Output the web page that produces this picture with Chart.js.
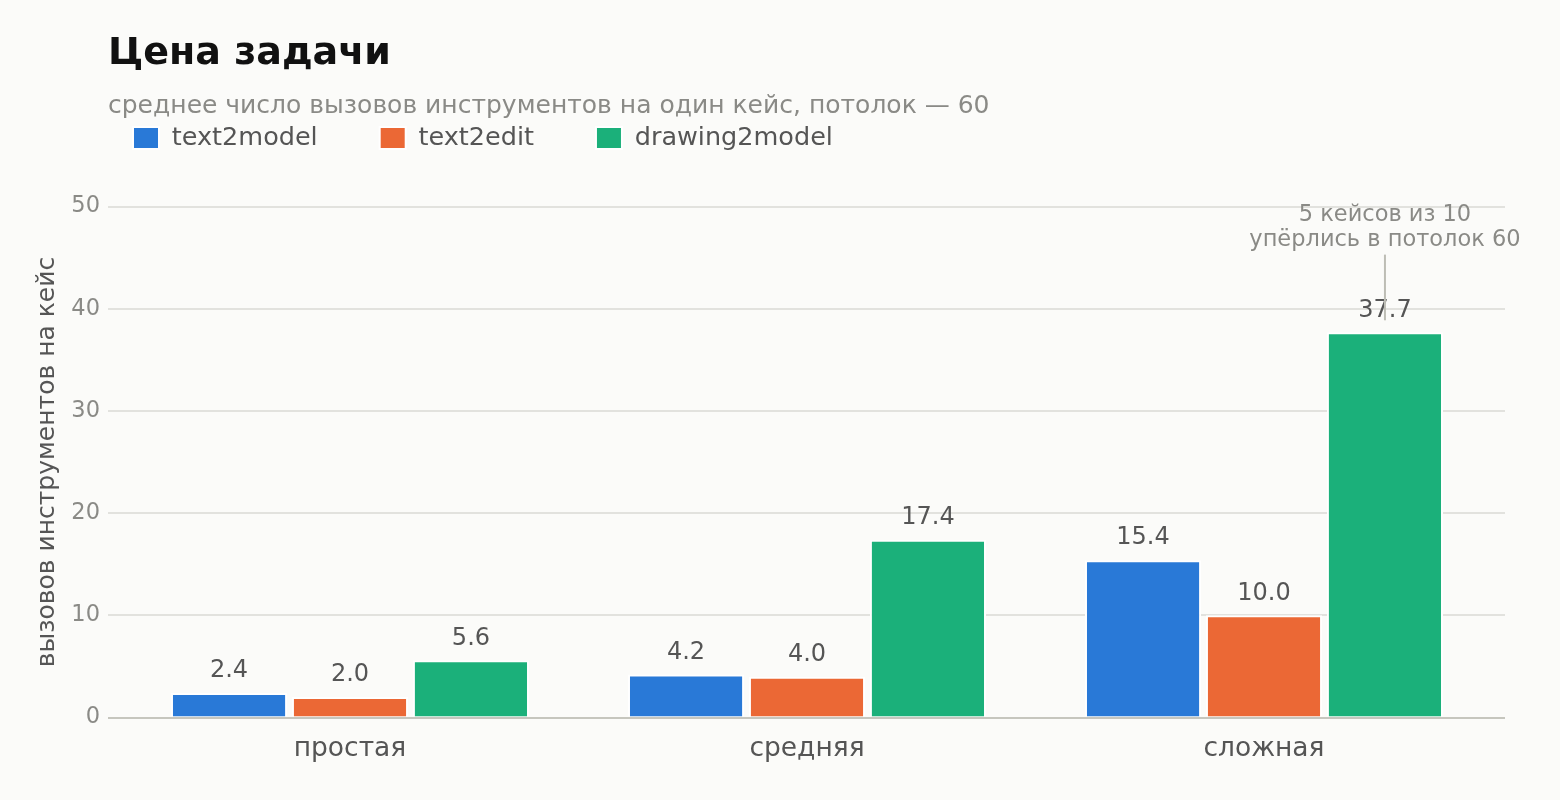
<!DOCTYPE html>
<html><head><meta charset="utf-8">
<script src="https://cdn.jsdelivr.net/npm/chart.js@4.4.0/dist/chart.umd.min.js"></script>
<style>html,body{margin:0;padding:0;background:#fbfbf9}#wrap{width:1560px;height:800px;position:relative}</style>
</head><body><div id="wrap"><canvas id="c"></canvas></div>
<script>
const categories = ['простая', 'средняя', 'сложная'];
const seriesNames = ['text2model', 'text2edit', 'drawing2model'];
const text2model = [2.4, 4.2, 15.4];
const text2edit = [2.0, 4.0, 10.0];
const drawing2model = [5.6, 17.4, 37.7];
const yTicks = [0, 10, 20, 30, 40, 50];
const titleText = 'Цена задачи';
const subtitleText = 'среднее число вызовов инструментов на один кейс, потолок — 60';
const yAxisTitle = 'вызовов инструментов на кейс';
const annotationLines = ['5 кейсов из 10', 'упёрлись в потолок 60'];
const annotationTarget = {dataset: 2, index: 2};
const colors = ['#2979d7', '#eb6835', '#1bb07a'];

const FONT = '"DejaVu Sans", "Noto Sans", sans-serif';
Chart.defaults.font.family = FONT;

const layoutFix = {
  id: 'layoutFix',
  afterLayout(chart) {
    const a = chart.chartArea;
    const xs = chart.scales.x;
    xs.left = a.left + 13.5;
    xs.right = a.right - 12.5;
    xs.width = xs.right - xs.left;
    xs.configure();
    const lg = chart.legend;
    if (lg) {
      const w = lg.right - lg.left;
      lg.left = a.left - 37;
      lg.right = lg.left + w;
      lg.top = 63.25;
    }
  }
};

const valueLabels = {
  id: 'valueLabels',
  afterDatasetsDraw(chart) {
    const ctx = chart.ctx;
    ctx.save();
    ctx.font = '24px ' + FONT;
    ctx.fillStyle = '#555555';
    ctx.textAlign = 'center';
    ctx.textBaseline = 'middle';
    chart.data.datasets.forEach((ds, i) => {
      chart.getDatasetMeta(i).data.forEach((bar, j) => {
        ctx.fillText(ds.data[j].toFixed(1), bar.x, bar.y - 22);
      });
    });
    // annotation
    const bar = chart.getDatasetMeta(annotationTarget.dataset).data[annotationTarget.index];
    const ys = chart.scales.y;
    ctx.font = '22.5px ' + FONT;
    ctx.fillStyle = '#8a8a86';
    ctx.fillText(annotationLines[0], bar.x, ys.getPixelForValue(49.2));
    ctx.fillText(annotationLines[1], bar.x, ys.getPixelForValue(46.7));
    ctx.strokeStyle = '#bdbdb5';
    ctx.lineWidth = 2;
    ctx.beginPath();
    ctx.moveTo(bar.x, ys.getPixelForValue(45.3));
    ctx.lineTo(bar.x, bar.y - 12);
    ctx.stroke();
    ctx.restore();
  }
};

const dataSeries = [text2model, text2edit, drawing2model];

new Chart(document.getElementById('c'), {
  type: 'bar',
  data: {
    labels: categories,
    datasets: seriesNames.map((name, i) => ({
      label: name,
      data: dataSeries[i],
      backgroundColor: colors[i],
      borderColor: '#ffffff',
      borderWidth: 2,
      borderSkipped: 'start',
      categoryPercentage: 0.794,
      barPercentage: 0.96
    }))
  },
  options: {
    responsive: true,
    maintainAspectRatio: false,
    animation: false,
    layout: {padding: {left: 0, right: 55, top: 0, bottom: 18.7}},
    plugins: {
      tooltip: {enabled: false},
      title: {
        display: true, text: titleText, align: 'start', fullSize: false,
        color: '#111111', font: {size: 38, weight: 'bold', family: FONT, lineHeight: 1.2},
        padding: {top: 31, bottom: 0}
      },
      subtitle: {
        display: true, text: subtitleText, align: 'start', fullSize: false,
        color: '#8a8a86', font: {size: 25, family: FONT, lineHeight: 1.2},
        padding: {top: 14.5, bottom: 0}
      },
      legend: {
        display: true, position: 'top', align: 'start', fullSize: false,
        maxHeight: 85.5,
        labels: {
          boxWidth: 26, boxHeight: 22, padding: 62,
          color: '#555555', font: {size: 25.5, family: FONT}
        }
      }
    },
    scales: {
      x: {
        grid: {display: false, drawTicks: false},
        border: {display: false},
        ticks: {color: '#555555', font: {size: 26.5, family: FONT}, padding: 16}
      },
      y: {
        min: 0, max: 50,
        afterBuildTicks: (s) => { s.ticks = yTicks.map(v => ({value: v})); },
        afterFit: (s) => { s.width = 108; },
        grid: {
          drawTicks: false,
          color: (c) => (c.tick && c.tick.value === 0 ? '#c6c6be' : '#e2e2de'),
          lineWidth: 2
        },
        border: {display: false},
        ticks: {color: '#8a8a86', font: {size: 22.5, family: FONT}, padding: 8},
        title: {
          display: true, text: yAxisTitle, color: '#555555',
          font: {size: 25, family: FONT, lineHeight: 1.2},
          padding: {top: 32, bottom: 0}
        }
      }
    }
  },
  plugins: [layoutFix, valueLabels]
});
</script>
</body></html>
